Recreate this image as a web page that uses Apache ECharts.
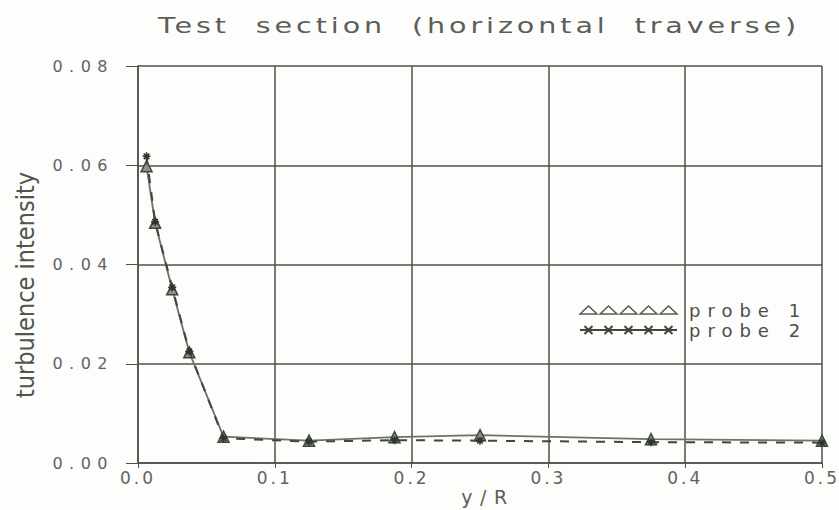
<!DOCTYPE html>
<html><head><meta charset="utf-8">
<script src="https://cdn.jsdelivr.net/npm/echarts@6/dist/echarts.min.js"></script>
<style>
html,body{margin:0;padding:0;background:#fdfdfb;}
#c{width:839px;height:510px;}
#c svg text[style*="16px"]{letter-spacing:6.5px;}
#c svg text[style*="17px"]{letter-spacing:3px;}
#c svg text[style*="18px"]{letter-spacing:7px;}
#c svg text[style*="22px"]{letter-spacing:3px;}
#c svg text[style*="19px"]{letter-spacing:7.5px;}
</style>
</head><body><div id="c"></div>
<script>
const xValues = [0.00625, 0.0125, 0.025, 0.0375, 0.0625, 0.125, 0.1875, 0.25, 0.375, 0.5];
const probe1 = [0.0598, 0.0484, 0.0350, 0.0223, 0.0053, 0.0045, 0.0052, 0.0056, 0.0048, 0.0045];
const probe2 = [0.0618, 0.0486, 0.0354, 0.0225, 0.0050, 0.0043, 0.0046, 0.0045, 0.0042, 0.0041];
const xTicks = ['0.0', '0.1', '0.2', '0.3', '0.4', '0.5'];
const yTicks = ['0.00', '0.02', '0.04', '0.06', '0.08'];
const seriesNames = ['probe 1', 'probe 2'];
const titleText = 'Test  section  (horizontal  traverse)';
const xName = 'y/R';
const yName = 'turbulence intensity';

const ink = '#4b524b';
const starPath = 'path://M0,5 L10,5 M5,0 L5,10 M1.5,1.5 L8.5,8.5 M1.5,8.5 L8.5,1.5';
let triIcon = 'path://';
for (let i = 0; i < 5; i++) { const x = i * 20; triIcon += `M${x},8 L${x + 8.5},0 L${x + 17},8 Z `; }
let starIcon = 'path://M0,4 L97,4 ';
for (let i = 0; i < 5; i++) { const x = 8.5 + i * 20; starIcon += `M${x - 4},0 L${x + 4},8 M${x - 4},8 L${x + 4},0 `; }

const chart = echarts.init(document.getElementById('c'), null, {renderer: 'svg'});
chart.setOption({
  backgroundColor: '#fdfdfb',
  animation: false,
  grid: {left: 138, right: 17, top: 66, bottom: 47},
  graphic: [
    {type: 'text', x: 479, y: 25, scaleX: 1.3, style: {text: titleText, x: 0, y: 0, textAlign: 'center', textVerticalAlign: 'middle', fill: '#5a5f5a', font: '22px "DejaVu Sans"'}},
    {type: 'text', rotation: Math.PI / 2, x: 25, y: 285, style: {text: yName, textAlign: 'center', textVerticalAlign: 'middle', fill: '#4f554f', font: '25px "Liberation Sans Narrow", "DejaVu Sans Condensed"'}},
    {type: 'text', x: 488, y: 497, style: {text: xName, x: 0, y: 0, textAlign: 'center', textVerticalAlign: 'middle', fill: '#5a5f5a', font: '19px "DejaVu Sans"'}}
  ],
  legend: {
    left: 579, top: 301, orient: 'vertical', itemGap: 2, padding: 0,
    itemWidth: 97, itemHeight: 8,
    textStyle: {color: '#4a4f4a', fontSize: 18, lineHeight: 17, fontFamily: '"DejaVu Sans"', padding: [0, 0, 0, 7]},
    data: [
      {name: seriesNames[0], icon: triIcon, itemStyle: {color: 'rgba(0,0,0,0)', borderColor: '#555b55', borderWidth: 1.5}},
      {name: seriesNames[1], icon: starIcon, itemStyle: {color: 'rgba(0,0,0,0)', borderColor: '#3f463f', borderWidth: 2}}
    ]
  },
  xAxis: {
    type: 'value', min: 0, max: 0.5, interval: 0.1,
    axisLine: {show: true, lineStyle: {color: ink, width: 1.5}},
    axisTick: {show: true, length: 5, lineStyle: {color: ink}},
    splitLine: {show: true, lineStyle: {color: ink, width: 1.5}},
    axisLabel: {color: '#5f645f', fontSize: 17, fontFamily: '"DejaVu Sans"', margin: 6,
      formatter: (v) => xTicks[Math.round(v * 10)]}
  },
  yAxis: {
    type: 'value', min: 0, max: 0.08, interval: 0.02,
    axisLine: {show: true, lineStyle: {color: ink, width: 1.5}},
    axisTick: {show: true, length: 12, lineStyle: {color: ink}},
    splitLine: {show: true, lineStyle: {color: ink, width: 1.5}},
    axisLabel: {color: '#5f645f', fontSize: 16, fontFamily: '"DejaVu Sans"', margin: 24,
      formatter: (v) => yTicks[Math.round(v / 0.02)]}
  },
  series: [
    {
      name: seriesNames[0], type: 'line', z: 3,
      data: xValues.map((x, i) => [x, probe1[i]]),
      symbol: 'triangle', symbolSize: 11, showAllSymbol: true,
      lineStyle: {color: '#6a726a', width: 1.8},
      itemStyle: {color: '#8a928a', borderColor: '#3f463f', borderWidth: 1.5}
    },
    {
      name: seriesNames[1], type: 'line', z: 4,
      data: xValues.map((x, i) => [x, probe2[i]]),
      symbol: starPath, symbolSize: 8, showAllSymbol: true,
      lineStyle: {color: '#3f463f', width: 2, type: [9, 9]},
      itemStyle: {color: 'rgba(0,0,0,0)', borderColor: '#2f362f', borderWidth: 1.6}
    }
  ]
});
</script></body></html>
